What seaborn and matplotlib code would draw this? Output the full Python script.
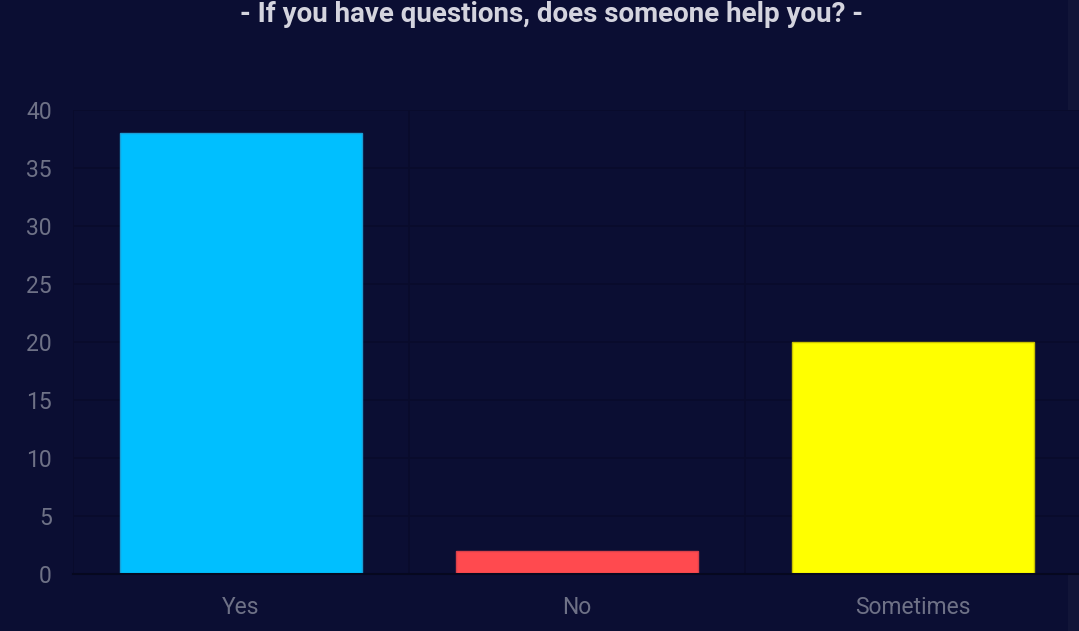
import matplotlib.pyplot as plt
import seaborn as sns
import pandas as pd
from matplotlib.patches import Rectangle

# Survey answers
answers = ["Yes", "No", "Sometimes"]
counts = [38, 2, 20]
bar_colors = ["#00bfff", "#ff4a4f", "#ffff00"]
edge_colors = ["#1a9fd6", "#d9414a", "#c9c200"]
y_ticks = [0, 5, 10, 15, 20, 25, 30, 35, 40]

bg = "#0b0e33"
grid_col = "#090b2b"
text_col = "#6e7186"

sns.set_style("dark")
plt.rcParams["font.family"] = ["Roboto", "DejaVu Sans"]

df = pd.DataFrame({"answer": answers, "count": counts})

fig = plt.figure(figsize=(10.79, 6.31), dpi=100, facecolor=bg)
# axes placed in pixel terms: x 72.5..1081.5, y 110..574 (from top)
ax = fig.add_axes([72.5 / 1079, (631 - 574) / 631, 1009 / 1079, 464 / 631])
ax.set_facecolor(bg)

sns.barplot(data=df, x="answer", y="count", hue="answer", palette=bar_colors,
            width=0.72, legend=False, ax=ax, saturation=1)
for patch, ec in zip(ax.patches, edge_colors):
    patch.set_edgecolor(ec)
    patch.set_linewidth(1)

ax.set_xlim(-0.5, 2.5)
ax.set_ylim(0, 40)
ax.set_yticks(y_ticks)
ax.set_xlabel("")
ax.set_ylabel("")

# grid lines: horizontal at y ticks, vertical at category boundaries
ax.set_xticks([-0.5, 0.5, 1.5, 2.5], minor=True)
ax.grid(False)
ax.grid(True, which="major", axis="y", color=grid_col, linewidth=1.2)
ax.grid(True, which="minor", axis="x", color=grid_col, linewidth=1.2)
ax.set_axisbelow(True)

ax.tick_params(axis="x", which="major", length=0, pad=16, labelsize=16.5, labelcolor=text_col)
ax.tick_params(axis="x", which="minor", length=13, width=1.2, color=grid_col, direction="out")
ax.tick_params(axis="y", which="major", length=0, pad=15, labelsize=16.5, labelcolor=text_col)

for side in ["top", "right", "left"]:
    ax.spines[side].set_visible(False)
ax.spines["bottom"].set_color("#06081f")
ax.spines["bottom"].set_linewidth(1.5)

fig.text(551 / 1079, 1 - 14 / 631, "- If you have questions, does someone help you? -",
         ha="center", va="center", fontsize=20, fontweight="bold", color="#d4d4de")

# scrollbar strip on the right edge
fig.patches.append(Rectangle((1068 / 1079, 0), 11 / 1079, 1, transform=fig.transFigure,
                             facecolor="#121538", edgecolor="none", zorder=-1))

fig.savefig("out.png", dpi=100, facecolor=bg)
